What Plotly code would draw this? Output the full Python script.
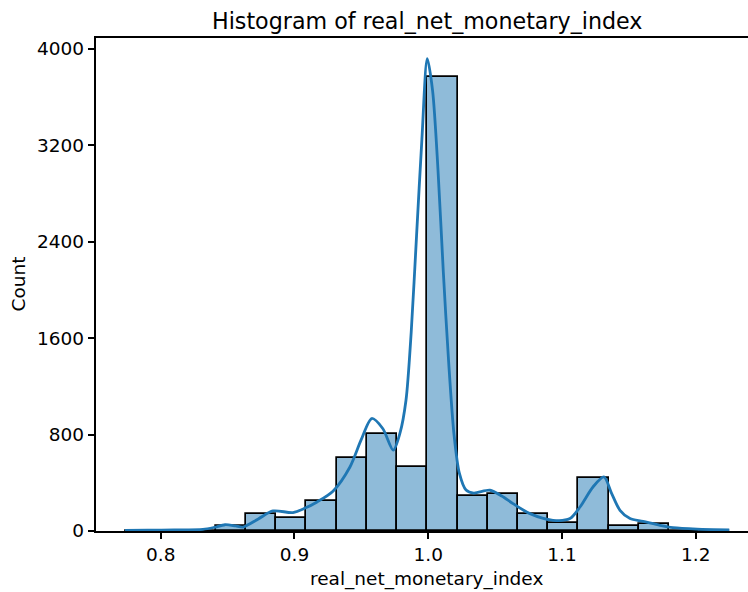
import plotly.graph_objects as go

# Histogram bins (20 equal-width bins) and counts
bin_start = 0.7733
bin_width = 0.022605
counts = [1, 2, 3, 39, 139, 111, 247, 602, 802, 532,
          3762, 289, 303, 145, 70, 436, 45, 56, 4, 2]

# Kernel density estimate, scaled to counts
kde_x = [0.7733, 0.7900, 0.8100, 0.8316, 0.8400, 0.8481, 0.8560, 0.8615,
         0.8730, 0.8840, 0.8989, 0.9080, 0.9169, 0.9288, 0.9415, 0.9500,
         0.9578, 0.9660, 0.9739, 0.9789, 0.9834, 0.9873, 0.9913, 0.9953,
         0.9993, 1.0033, 1.0073, 1.0113, 1.0153, 1.0193, 1.0233, 1.0283,
         1.0340, 1.0462, 1.0550, 1.0634, 1.0761, 1.0933, 1.1060, 1.1135,
         1.1232, 1.1314, 1.1372, 1.1434, 1.1509, 1.1606, 1.1733, 1.1830,
         1.2010, 1.2251]
kde_y = [6, 7, 9, 14, 30, 52, 42, 33,
         100, 166, 153, 190, 241, 330, 531, 760,
         933, 850, 670, 811, 1084, 1650, 2450, 3250,
         3917, 3650, 3000, 2150, 1400, 800, 480, 340,
         315, 338, 290, 227, 144, 89, 103, 199,
         365, 448, 310, 172, 103, 80, 47, 28,
         16, 10]

y_ticks = [0, 800, 1600, 2400, 3200, 4000]
x_ticks = [0.8, 0.9, 1.0, 1.1, 1.2]

title_text = "Histogram of real_net_monetary_index"
x_label = "real_net_monetary_index"
y_label = "Count"

centers = [bin_start + (i + 0.5) * bin_width for i in range(len(counts))]

font = "DejaVu Sans"
ink = "black"

fig = go.Figure()
fig.add_trace(go.Bar(
    x=centers, y=counts, width=bin_width,
    marker=dict(color="rgba(31,119,180,0.5)",
                line=dict(color=ink, width=1.7)),
    hoverinfo="skip",
))
fig.add_trace(go.Scatter(
    x=kde_x, y=kde_y, mode="lines",
    line=dict(color="#1f77b4", width=2.8, shape="spline", smoothing=0.8),
    hoverinfo="skip",
))

fig.update_layout(
    width=748, height=592,
    margin=dict(l=96, r=0, t=38, b=61),
    paper_bgcolor="white", plot_bgcolor="white",
    showlegend=False, bargap=0,
    font=dict(family=font, size=18.5, color=ink),
    annotations=[
        dict(text=title_text, xref="paper", yref="paper",
             x=0.507, y=1.035, xanchor="center", yanchor="middle",
             showarrow=False, font=dict(family=font, size=22.2, color=ink)),
        dict(text=x_label, xref="paper", yref="paper",
             x=0.507, y=-0.098, xanchor="center", yanchor="middle",
             showarrow=False, font=dict(family=font, size=18.5, color=ink)),
        dict(text=y_label, xref="paper", yref="paper", textangle=-90,
             x=-0.1196, y=0.5, xanchor="center", yanchor="middle",
             showarrow=False, font=dict(family=font, size=18.5, color=ink)),
    ],
)
fig.update_xaxes(
    range=[0.75163, 1.23911], tickvals=x_ticks,
    ticktext=[f"{v:.1f}" for v in x_ticks],
    showgrid=False, zeroline=False,
    showline=True, linecolor=ink, linewidth=1.5, mirror=True,
    ticks="outside", ticklen=6.5, tickwidth=1.5, tickcolor=ink,
    tickfont=dict(size=18.5),
)
fig.update_yaxes(
    range=[0, 4089], tickvals=y_ticks,
    showgrid=False, zeroline=False,
    showline=True, linecolor=ink, linewidth=1.5,
    ticks="outside", ticklen=6.5, tickwidth=1.5, tickcolor=ink,
    tickfont=dict(size=18.5),
)

fig.write_html("out.html")
